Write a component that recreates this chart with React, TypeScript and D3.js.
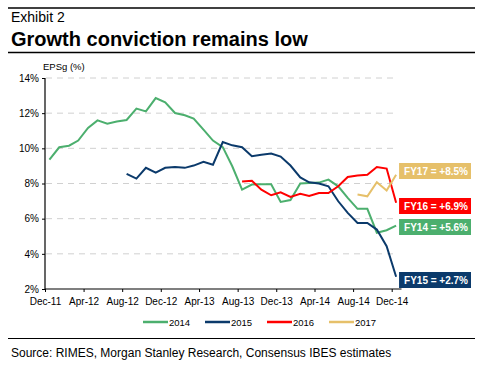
import React, { useEffect, useRef } from "react";
import * as d3 from "d3";

// monthly EPS growth estimates (%), first point Dec-11
const months2014 = [9.36, 10.06, 10.15, 10.44, 11.16, 11.59, 11.4, 11.53, 11.61, 12.26, 12.1, 12.86,
  12.62, 12.01, 11.88, 11.69, 11.06, 10.44, 10.07, 8.98, 7.65, 7.94, 7.96, 7.96, 6.95, 7.06, 8.0, 8.03,
  8.05, 8.22, 7.84, 7.18, 6.56, 6.56, 5.2, 5.34, 5.6];
// starts Aug-12
const months2015 = [8.55, 8.28, 8.89, 8.62, 8.89, 8.94, 8.89, 9.02, 9.23, 9.07, 10.36, 10.17, 10.06,
  9.55, 9.64, 9.7, 9.53, 9.02, 8.35, 8.07, 8.0, 7.84, 6.99, 6.33, 5.76, 5.76, 5.38, 4.43, 2.7];
// starts Aug-13
const months2016 = [8.11, 8.16, 7.65, 7.33, 7.5, 7.24, 7.41, 7.29, 7.46, 7.46, 7.84, 8.37, 8.45, 8.5,
  8.94, 8.85, 6.9];
// starts Aug-14
const months2017 = [7.37, 7.27, 8.07, 7.6, 8.5];

const seriesNames = ["2014", "2015", "2016", "2017"];
const seriesStart = [new Date(2011, 11, 15), new Date(2012, 7, 15), new Date(2013, 7, 15), new Date(2014, 7, 15)];
const seriesValues = [months2014, months2015, months2016, months2017];
const colors = ["#4caf6e", "#0b3a6b", "#ff0000", "#e6c06a"];

const endLabels = ["FY14 = +5.6%", "FY15 = +2.7%", "FY16 = +6.9%", "FY17 = +8.5%"];
const labelY = [227, 280, 206, 171];

const yTicks = [2, 4, 6, 8, 10, 12, 14];
const xTicks = ["Dec-11", "Apr-12", "Aug-12", "Dec-12", "Apr-13", "Aug-13", "Dec-13", "Apr-14", "Aug-14", "Dec-14"];

export default function App() {
  const ref = useRef<SVGSVGElement>(null);

  useEffect(() => {
    const svg = d3.select(ref.current);
    svg.selectAll("*").remove();
    const font = "'Liberation Sans', Arial, sans-serif";
    const parse = d3.timeParse("%b-%y");

    const x = d3.scaleTime().domain([new Date(2011, 11, 1), new Date(2015, 0, 1)]).range([45, 401.5]);
    const y = d3.scaleLinear().domain([2, 14]).range([289, 78]);

    // header
    svg.append("line").attr("x1", 8).attr("x2", 475).attr("y1", 8).attr("y2", 8).attr("stroke", "#000").attr("stroke-width", 1.3);
    svg.append("text").attr("x", 11).attr("y", 22).attr("font-family", font).attr("font-size", 14).text("Exhibit 2");
    svg.append("text").attr("x", 11).attr("y", 46).attr("font-family", font).attr("font-size", 20).attr("font-weight", "bold").text("Growth conviction remains low");
    svg.append("line").attr("x1", 8).attr("x2", 475).attr("y1", 52.5).attr("y2", 52.5).attr("stroke", "#000").attr("stroke-width", 1.3);

    // grid
    svg.append("g").selectAll("line").data(yTicks.slice(1)).join("line")
      .attr("x1", 46).attr("x2", 398).attr("y1", d => y(d)).attr("y2", d => y(d))
      .attr("stroke", "#d0d0d0").attr("stroke-dasharray", "6,5");

    // axes
    const yAxis = svg.append("g").attr("transform", "translate(45,0)")
      .call(d3.axisLeft(y).tickValues(yTicks).tickSize(3).tickPadding(3).tickFormat(d => `${d}%`));
    const xAxis = svg.append("g").attr("transform", "translate(0,289)")
      .call(d3.axisBottom(x).tickValues(xTicks.map(t => parse(t) as Date)).tickSize(3).tickPadding(6)
        .tickFormat(d => d3.timeFormat("%b-%y")(d as Date)));
    for (const a of [yAxis, xAxis]) {
      a.select(".domain").attr("stroke", "#000").attr("stroke-width", 1.2);
      a.selectAll("line").attr("stroke", "#000");
      a.selectAll("text").attr("font-family", font).attr("font-size", 10).attr("fill", "#000");
    }
    xAxis.select(".domain").attr("d", "M45,0H401.5");
    yAxis.select(".domain").attr("d", `M0,${y(14)}V${y(2)}`);

    svg.append("text").attr("x", 43).attr("y", 70).attr("font-family", font).attr("font-size", 9.5).text("EPSg (%)");

    // lines
    const line = d3.line<[Date, number]>().x(d => x(d[0])).y(d => y(d[1]));
    seriesValues.forEach((vals, i) => {
      const pts: [Date, number][] = vals.map((v, k) => [d3.timeMonth.offset(seriesStart[i], k), v]);
      svg.append("path").attr("d", line(pts)).attr("fill", "none").attr("stroke", colors[i]).attr("stroke-width", 2);
    });

    // end labels
    endLabels.forEach((t, i) => {
      const g = svg.append("g");
      const txt = g.append("text").attr("x", 468).attr("y", labelY[i] + 4).attr("font-family", font)
        .attr("font-size", 10).attr("font-weight", "bold").attr("fill", "#fff").attr("text-anchor", "end").text(t);
      const w = (txt.node() as SVGTextElement).getComputedTextLength();
      g.insert("rect", "text").attr("x", 468 - w - 5).attr("width", w + 8).attr("y", labelY[i] - 8).attr("height", 16).attr("fill", colors[i]);
    });

    // legend
    const lg = svg.append("g").attr("transform", "translate(143,322)");
    seriesNames.forEach((n, i) => {
      const gx = i * 62;
      lg.append("line").attr("x1", gx).attr("x2", gx + 25).attr("y1", 0).attr("y2", 0).attr("stroke", colors[i]).attr("stroke-width", 2.5);
      lg.append("text").attr("x", gx + 26).attr("y", 3.5).attr("font-family", font).attr("font-size", 9.5).text(n);
    });

    // footer
    svg.append("line").attr("x1", 8).attr("x2", 475).attr("y1", 338.5).attr("y2", 338.5).attr("stroke", "#000").attr("stroke-width", 1.2);
    svg.append("text").attr("x", 11).attr("y", 357).attr("font-family", font).attr("font-size", 12).text("Source: RIMES, Morgan Stanley Research, Consensus IBES estimates");
  }, []);

  return (
    <svg ref={ref} width={480} height={365}
      style={{ position: "absolute", left: 0, top: 0, background: "#fff" }} />
  );
}
